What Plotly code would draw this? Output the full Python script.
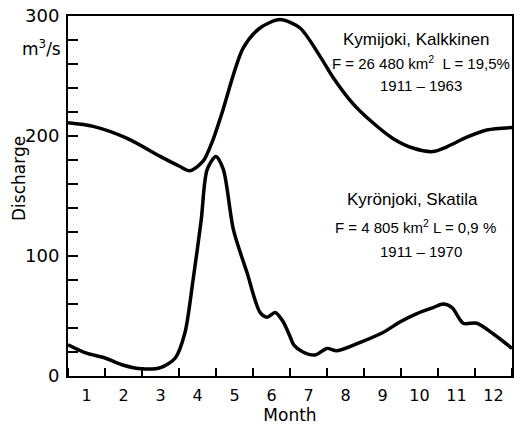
import plotly.graph_objects as go

# Data
kymi_month = [0, 0.68, 1.6, 2.49, 3.0, 3.3, 3.65, 3.92, 4.16, 4.73, 5.19, 5.73, 6.27, 6.8, 7.16, 7.7, 8.24, 8.78, 9.32, 9.86, 10.24, 10.78, 11.32, 12]
kymi_q = [211, 208, 198, 183, 175, 171, 179, 197, 219, 273, 290, 297, 290, 267, 249, 227, 211, 198, 190, 187, 191, 199, 205, 207]

kyro_month = [0, 0.5, 1.0, 1.5, 2.0, 2.5, 2.9, 3.16, 3.38, 3.6, 3.76, 4.0, 4.2, 4.47, 4.84, 5.19, 5.38, 5.6, 5.8, 6.0, 6.1, 6.35, 6.68, 7.0, 7.27, 7.9, 8.5, 8.97, 9.43, 9.87, 10.14, 10.38, 10.68, 11.05, 11.5, 12]
kyro_q = [26, 19, 15, 9, 6, 7, 15, 36, 80, 130, 172, 183, 172, 122, 86, 53, 49, 53, 46, 33, 26, 20, 17.5, 23, 21, 28, 36, 45, 52, 57, 60, 57, 44, 44, 35, 23]

month_labels = ["1", "2", "3", "4", "5", "6", "7", "8", "9", "10", "11", "12"]
month_centers = [i + 0.5 for i in range(12)]
y_ticks = [0, 100, 200, 300]

kymi_text = ["Kymijoki, Kalkkinen", "F = 26 480 km<sup>2</sup>  L = 19,5%", "1911 – 1963"]
kyro_text = ["Kyrönjoki, Skatila", "F = 4 805 km<sup>2</sup> L = 0,9 %", "1911 – 1970"]

FONT = "DejaVu Sans"
AFONT = "Liberation Sans"

fig = go.Figure()
fig.add_trace(go.Scatter(x=kymi_month, y=kymi_q, mode="lines",
                         line=dict(color="black", width=3.5, shape="spline", smoothing=0.8),
                         showlegend=False, hoverinfo="skip"))
fig.add_trace(go.Scatter(x=kyro_month, y=kyro_q, mode="lines",
                         line=dict(color="black", width=3.5, shape="spline", smoothing=0.8),
                         showlegend=False, hoverinfo="skip"))


def px_x(p):
    return (p - 68) / 444


def px_y(p):
    return 1 - (p - 16) / 360


annotations = []
for text, x, y, size in [
    (kymi_text[0], 416, 40, 17), (kymi_text[1], 421, 63, 15), (kymi_text[2], 421, 85, 15),
    (kyro_text[0], 412, 199, 17), (kyro_text[1], 415, 226, 15), (kyro_text[2], 421, 251, 15),
]:
    annotations.append(dict(text=text, xref="paper", yref="paper", x=px_x(x), y=px_y(y),
                            xanchor="center", yanchor="middle", showarrow=False,
                            font=dict(family=AFONT, size=size, color="black")))
annotations.append(dict(text="m<sup>3</sup>/s", xref="paper", yref="paper",
                        x=px_x(63), y=px_y(48), xanchor="right", yanchor="middle",
                        showarrow=False, font=dict(family=FONT, size=17, color="black")))
annotations.append(dict(text="Discharge", xref="paper", yref="paper",
                        x=px_x(19), y=px_y(179), xanchor="center", yanchor="middle",
                        textangle=-90, showarrow=False,
                        font=dict(family=FONT, size=17, color="black")))

fig.update_layout(
    width=515, height=432,
    margin=dict(l=68, r=3, t=16, b=56),
    paper_bgcolor="white", plot_bgcolor="white",
    font=dict(family=FONT, color="black"),
    annotations=annotations,
    xaxis=dict(range=[0, 12], tickvals=month_centers, ticktext=month_labels, ticks="",
               automargin=False,
               showgrid=False, zeroline=False, showline=True, linecolor="black", linewidth=2,
               mirror=True, tickfont=dict(size=16, family=FONT), ticklabelstandoff=4,
               minor=dict(tick0=0, dtick=1, ticks="inside", ticklen=8, tickwidth=1.5,
                          tickcolor="black", showgrid=False),
               title=dict(text="Month", font=dict(size=17, family=FONT), standoff=3)),
    yaxis=dict(range=[0, 300], tickvals=y_ticks, ticks="inside", ticklen=10, tickwidth=1.5,
               automargin=False,
               tickcolor="black", showgrid=False, zeroline=False, showline=True,
               linecolor="black", linewidth=2, mirror=True,
               tickfont=dict(size=18, family=FONT), ticklabelstandoff=3,
               minor=dict(dtick=20, ticks="inside", ticklen=10, tickwidth=1.5,
                          tickcolor="black", showgrid=False)),
)

fig.write_html("out.html", config={"displayModeBar": False},
               post_script="document.body.style.margin='0';document.body.style.overflow='hidden';")
